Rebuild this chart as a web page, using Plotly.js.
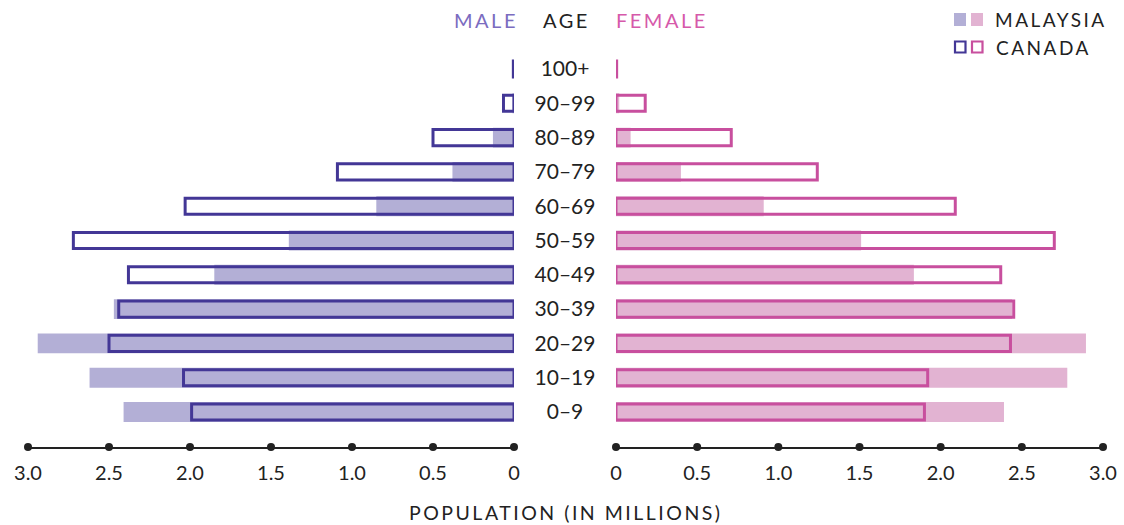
<!DOCTYPE html>
<html><head><meta charset="utf-8">
<script src="https://cdn.plot.ly/plotly-3.0.1.min.js"></script>
<style>body{margin:0;background:#fff} .annotation-text{letter-spacing:2.5px}</style>
</head><body><div id="chart" style="width:1124px;height:525px"></div>
<script>
const ageGroups = ["0–9","10–19","20–29","30–39","40–49","50–59","60–69","70–79","80–89","90–99","100+"];
const malaysiaMale   = [2.41, 2.62, 2.94, 2.47, 1.85, 1.39, 0.85, 0.38, 0.13, 0.01, 0];
const canadaMale     = [1.99, 2.04, 2.50, 2.44, 2.38, 2.72, 2.03, 1.09, 0.50, 0.065, 0.004];
const malaysiaFemale = [2.39, 2.78, 2.895, 2.44, 1.835, 1.51, 0.91, 0.40, 0.09, 0.02, 0];
const canadaFemale   = [1.90, 1.92, 2.43, 2.45, 2.37, 2.70, 2.09, 1.24, 0.71, 0.18, 0.004];
const tickVals   = [0, 0.5, 1, 1.5, 2, 2.5, 3];
const tickLabels = ["0", "0.5", "1.0", "1.5", "2.0", "2.5", "3.0"];

const W = 1124, H = 525;
const px = v => v / W, py = v => 1 - v / H;
const FONT = "Lato, 'Open Sans', sans-serif";
const C = {
  myMale: "#b3afd6", caMale: "#433796",
  myFemale: "#e2b3d2", caFemale: "#c84f9e",
  text: "#222222", maleTitle: "#7b6cc0", femaleTitle: "#d659aa"
};
const yIdx = ageGroups.map((_, i) => i);
const yBottom = -1.02;

const traces = [
  {type: "bar", orientation: "h", x: malaysiaMale, y: yIdx, xaxis: "x", yaxis: "y",
   width: 0.58, marker: {color: C.myMale, line: {width: 0}}, hoverinfo: "skip"},
  {type: "bar", orientation: "h", x: canadaMale, y: yIdx, xaxis: "x", yaxis: "y",
   width: 0.47, marker: {color: "rgba(0,0,0,0)", line: {color: C.caMale, width: 3}}, hoverinfo: "skip"},
  {type: "bar", orientation: "h", x: malaysiaFemale, y: yIdx, xaxis: "x2", yaxis: "y",
   width: 0.58, marker: {color: C.myFemale, line: {width: 0}}, hoverinfo: "skip"},
  {type: "bar", orientation: "h", x: canadaFemale, y: yIdx, xaxis: "x2", yaxis: "y",
   width: 0.47, marker: {color: "rgba(0,0,0,0)", line: {color: C.caFemale, width: 3}}, hoverinfo: "skip"},
  {type: "scatter", mode: "text", x: ageGroups.map(() => 0.5), y: yIdx.map(v => v - 0.06), text: ageGroups,
   xaxis: "x3", yaxis: "y", textposition: "middle center",
   textfont: {family: FONT, size: 21, color: C.text}, hoverinfo: "skip", cliponaxis: false},
  {type: "scatter", mode: "markers", x: tickVals, y: tickVals.map(() => yBottom), xaxis: "x", yaxis: "y",
   marker: {color: C.text, size: 8}, cliponaxis: false, hoverinfo: "skip"},
  {type: "scatter", mode: "markers", x: tickVals, y: tickVals.map(() => yBottom), xaxis: "x2", yaxis: "y",
   marker: {color: C.text, size: 8}, cliponaxis: false, hoverinfo: "skip"}
];

const xCommon = {
  tickvals: tickVals, ticktext: tickLabels, showline: true, linecolor: C.text, linewidth: 1.5,
  showgrid: false, zeroline: false, ticks: "outside", ticklen: 7, tickcolor: "rgba(0,0,0,0)",
  tickfont: {family: FONT, size: 20, color: C.text}, fixedrange: true, anchor: "y"
};

const layout = {
  width: W, height: H, margin: {l: 0, r: 0, t: 0, b: 0},
  paper_bgcolor: "#fff", plot_bgcolor: "rgba(0,0,0,0)",
  showlegend: false, barmode: "overlay",
  font: {family: FONT, color: C.text},
  xaxis: Object.assign({}, xCommon, {domain: [px(28), px(514)], range: [3, 0]}),
  xaxis2: Object.assign({}, xCommon, {domain: [px(616), px(1103)], range: [0, 3]}),
  xaxis3: {domain: [px(514), px(616)], range: [0, 1], visible: false, anchor: "y", fixedrange: true},
  yaxis: {domain: [py(447), py(51.85)], range: [yBottom, 10.5], visible: false, fixedrange: true},
  annotations: [
    {text: "MALE", x: px(486), y: py(20), xref: "paper", yref: "paper", showarrow: false,
     xanchor: "center", yanchor: "middle", font: {family: FONT, size: 20, color: C.maleTitle}},
    {text: "AGE", x: px(566), y: py(20), xref: "paper", yref: "paper", showarrow: false,
     xanchor: "center", yanchor: "middle", font: {family: FONT, size: 20, color: C.text}},
    {text: "FEMALE", x: px(661.5), y: py(20), xref: "paper", yref: "paper", showarrow: false,
     xanchor: "center", yanchor: "middle", font: {family: FONT, size: 20, color: C.femaleTitle}},
    {text: "MALAYSIA", x: px(1050.5), y: py(20), xref: "paper", yref: "paper", showarrow: false,
     xanchor: "center", yanchor: "middle", font: {family: FONT, size: 19, color: C.text}},
    {text: "CANADA", x: px(1043), y: py(47), xref: "paper", yref: "paper", showarrow: false,
     xanchor: "center", yanchor: "middle", font: {family: FONT, size: 19, color: C.text}},
    {text: "POPULATION (IN MILLIONS)", x: px(566), y: py(512), xref: "paper", yref: "paper", showarrow: false,
     xanchor: "center", yanchor: "middle", font: {family: FONT, size: 19.5, color: C.text}}
  ],
  shapes: [
    {type: "rect", xref: "paper", yref: "paper", x0: px(954), x1: px(966), y0: py(26), y1: py(13),
     fillcolor: C.myMale, line: {width: 0}},
    {type: "rect", xref: "paper", yref: "paper", x0: px(971), x1: px(983), y0: py(26), y1: py(13),
     fillcolor: C.myFemale, line: {width: 0}},
    {type: "rect", xref: "paper", yref: "paper", x0: px(955), x1: px(965.5), y0: py(52.5), y1: py(41.5),
     fillcolor: "rgba(0,0,0,0)", line: {color: C.caMale, width: 2.2}},
    {type: "rect", xref: "paper", yref: "paper", x0: px(972), x1: px(982.5), y0: py(52.5), y1: py(41.5),
     fillcolor: "rgba(0,0,0,0)", line: {color: C.caFemale, width: 2.2}}
  ]
};

Plotly.newPlot("chart", traces, layout, {displayModeBar: false, staticPlot: true});
</script></body></html>
